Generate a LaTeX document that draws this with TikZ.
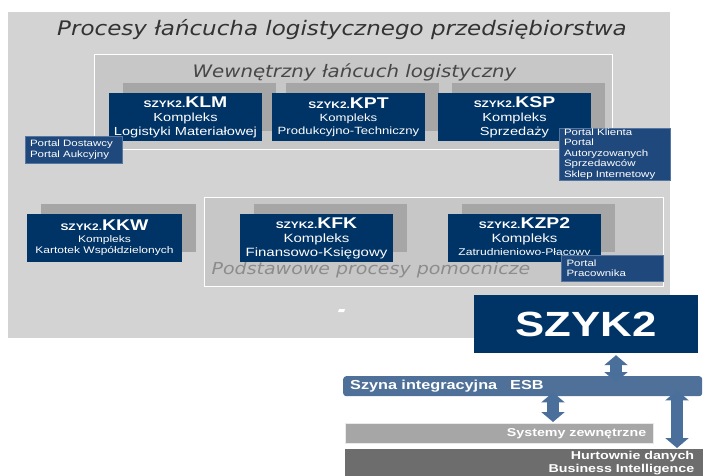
\documentclass[tikz,border=0pt]{standalone}
\usepackage{fontspec}
\newfontfamily\arial[FakeStretch=1.25]{Liberation Sans}
\newfontfamily\verd[FakeStretch=1.15]{DejaVu Sans}
\usetikzlibrary{shadows,arrows.meta,calc}
\definecolor{tlo}{HTML}{D3D3D3}
\definecolor{ramka}{HTML}{C7C7C7}
\definecolor{cien}{HTML}{A6A6A6}
\definecolor{granat}{HTML}{003366}
\definecolor{portalfill}{HTML}{1F497D}
\definecolor{portaldraw}{HTML}{5476A0}
\definecolor{szyna}{HTML}{4F7199}
\definecolor{strzalka}{HTML}{4A6F9B}
\definecolor{jasny}{HTML}{A6A6A6}
\definecolor{ciemny}{HTML}{6D6D6D}
\newcommand{\szyk}[1]{{\fontsize{9.5}{14}\selectfont\bfseries SZYK2.}{\fontsize{15.5}{14}\selectfont\bfseries #1}}
\tikzset{
    komplex/.style={rectangle, fill=granat, text=white, minimum width=153pt, minimum height=48pt, inner sep=0pt, align=center,
        font=\arial\fontsize{11.7}{14}\selectfont, drop shadow={fill=cien, opacity=1, shadow xshift=14pt, shadow yshift=10pt}},
    grupa/.style={rectangle, fill=ramka, draw=white, line width=1.2pt, anchor=north west, inner sep=0pt},
    portal/.style={rectangle, fill=portalfill, draw=portaldraw, text=white, align=left, inner xsep=5pt, inner ysep=1pt,
        font=\arial\fontsize{9.2}{10.4}\selectfont},
    pasek/.style={rectangle, anchor=north west, text=white, inner xsep=7pt, inner ysep=0pt, font=\arial\bfseries\fontsize{11.4}{13}\selectfont},
    dwustr/.style={draw=strzalka, line width=12.5pt, {Triangle[width=23pt,length=10pt]}-{Triangle[width=23pt,length=10pt]}}
}
\begin{document}
\begin{tikzpicture}[x=1pt, y=-1pt]
    \useasboundingbox (0,0) rectangle (706,476);
    \node[fill=tlo, anchor=north west, minimum width=662pt, minimum height=326pt, inner sep=0pt] (proc) at (8,12) {};
    \node[font=\verd\itshape\fontsize{20}{24}\selectfont, text=black!80] (tytul) at (342,30) {Procesy łańcucha logistycznego przedsiębiorstwa};
    \node[grupa, minimum width=518pt, minimum height=95pt] (wew) at (94,54) {};
    \node[grupa, minimum width=459pt, minimum height=89pt] (pom) at (204,197) {};
    \node[font=\verd\itshape\fontsize{17.2}{20}\selectfont, text=black!72] (wewt) at (354.5,72) {Wewnętrzny łańcuch logistyczny};
    \node[font=\verd\itshape\fontsize{16.5}{20}\selectfont, text=black!45] (pomt) at (371,270) {Podstawowe procesy pomocnicze};
    \fill[white] (339,309) -- (345,309) -- (344,312) -- (338,312) -- cycle;

    \node[komplex] (klm) at (185.5,117) {\szyk{KLM}\\Kompleks\\Logistyki Materiałowej};
    \node[komplex, font=\arial\fontsize{10.5}{13}\selectfont] (kpt) at (348.5,117) {\szyk{KPT}\\Kompleks\\Produkcyjno-Techniczny};
    \node[komplex] (ksp) at (514.5,117) {\szyk{KSP}\\Kompleks\\Sprzedaży};
    \node[komplex, minimum width=155pt, font=\arial\fontsize{9.6}{11.5}\selectfont] (kkw) at (104.5,238) {\szyk{KKW}\\Kompleks\\Kartotek Współdzielonych};
    \node[komplex, font=\arial\fontsize{12}{14}\selectfont] (kfk) at (316.5,238) {\szyk{KFK}\\Kompleks\\Finansowo-Księgowy};
    \node[komplex, font=\arial\fontsize{12}{13.5}\selectfont] (kzp) at (524.5,238) {\szyk{KZP2}\\Kompleks\\{\fontsize{9.7}{12}\selectfont Zatrudnieniowo-Płacowy}};

    \node[portal, text width=87pt, minimum height=27pt] (pdost) at (73.5,149.5) {Portal Dostawcy\\Portal Aukcyjny};
    \node[portal, text width=101pt, minimum height=52pt] (pklient) at (614.5,154) {Portal Klienta\\Portal\\Autoryzowanych\\Sprzedawców\\Sklep Internetowy};
    \node[portal, text width=91pt, minimum height=26pt, inner xsep=5.5pt] (pprac) at (612,268) {Portal\\Pracownika};

    \node[fill=granat, text=white, minimum width=224pt, minimum height=58pt, inner sep=0pt, font=\arial\bfseries\fontsize{35}{40}\selectfont] (szyk) at (586,324) {SZYK2};
    \node[pasek, fill=szyna, rounded corners=3pt, text width=345pt, minimum height=20pt, align=left, font=\arial\bfseries\fontsize{13}{15}\selectfont] (esb) at (343,376) {Szyna integracyjna\hspace{13pt}ESB};
    \node[pasek, fill=jasny, draw=white!75!jasny, text width=294pt, minimum height=20pt, align=right] (sysz) at (345,423) {Systemy zewnętrzne};
    \node[pasek, fill=ciemny, text width=340pt, inner xsep=9pt, minimum height=28pt, align=right] (hurt) at (345,449) {Hurtownie danych\\Business Intelligence};

    \draw[dwustr] ($(szyk.south)+(30,2)$) -- ($(szyk.south |- esb.north)+(30,6)$);
    \draw[dwustr] ($(esb.south west)+(210,-4)$) -- ($(sysz.north west)+(208,-1)$);
    \draw[dwustr] ($(esb.south west)+(334,-6)$) -- ($(hurt.north west)+(332,-1)$);
\end{tikzpicture}
\end{document}
